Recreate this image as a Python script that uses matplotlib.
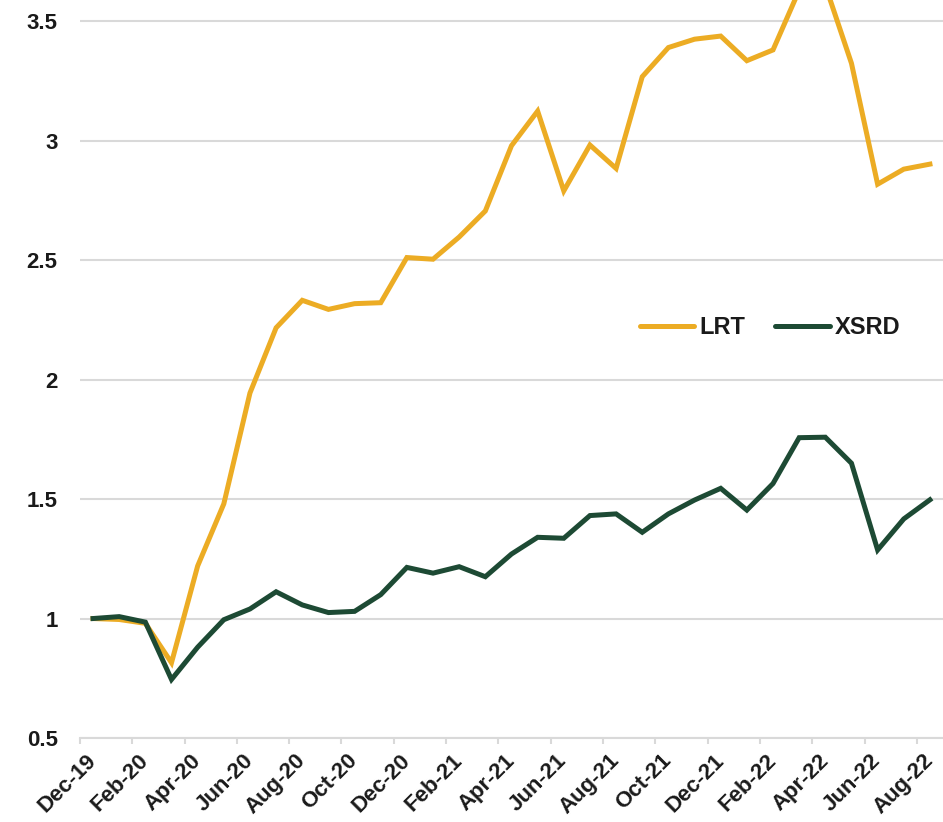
import numpy as np
import matplotlib
matplotlib.use('Agg')
import matplotlib.pyplot as plt

months = ['Dec-19', 'Jan-20', 'Feb-20', 'Mar-20', 'Apr-20', 'May-20', 'Jun-20', 'Jul-20',
          'Aug-20', 'Sep-20', 'Oct-20', 'Nov-20', 'Dec-20', 'Jan-21', 'Feb-21', 'Mar-21',
          'Apr-21', 'May-21', 'Jun-21', 'Jul-21', 'Aug-21', 'Sep-21', 'Oct-21', 'Nov-21',
          'Dec-21', 'Jan-22', 'Feb-22', 'Mar-22', 'Apr-22', 'May-22', 'Jun-22', 'Jul-22',
          'Aug-22']

lrt = [1.0, 0.996, 0.98, 0.815, 1.22, 1.48, 1.944, 2.217, 2.332, 2.294, 2.318, 2.322,
       2.511, 2.504, 2.597, 2.706, 2.979, 3.124, 2.79, 2.982, 2.884, 3.268, 3.39, 3.425,
       3.438, 3.335, 3.38, 3.63, 3.65, 3.324, 2.818, 2.881, 2.902]

xsrd = [1.0, 1.008, 0.985, 0.745, 0.88, 0.995, 1.04, 1.112, 1.057, 1.025, 1.03, 1.10,
        1.214, 1.19, 1.217, 1.175, 1.27, 1.34, 1.336, 1.431, 1.438, 1.361, 1.438, 1.496,
        1.545, 1.454, 1.565, 1.757, 1.759, 1.65, 1.287, 1.417, 1.497]

y_ticks = [0.5, 1, 1.5, 2, 2.5, 3, 3.5]
y_labels = ['0.5', '1', '1.5', '2', '2.5', '3', '3.5']

plt.rcParams['font.family'] = ['Liberation Sans', 'DejaVu Sans']

fig = plt.figure(figsize=(9.43, 8.22), dpi=100)
ax = fig.add_axes([0.0848, 0.1022, 0.9152, 0.8978])

x = np.arange(len(months))
ax.plot(x, lrt, color='#ECAC24', lw=3.6, label='LRT', solid_joinstyle='miter')
ax.plot(x, xsrd, color='#1D4A34', lw=3.6, label='XSRD', solid_joinstyle='miter')

ax.set_xlim(-0.5, len(months) - 0.5)
ax.set_ylim(0.5, 3.589)

# gridlines
ax.set_yticks(y_ticks)
ax.set_yticklabels(y_labels, fontsize=16, fontweight='bold', color='#1a1a1a')
ax.yaxis.grid(True, color='#D9D9D9', lw=1.5)
ax.set_axisbelow(True)
ax.tick_params(axis='y', length=0, pad=16)

# category axis: labels every 2 months, tick marks between categories
ax.set_xticks(x[::2])
ax.set_xticklabels(months[::2], fontsize=16, fontweight='bold', color='#1a1a1a',
                   rotation=45, ha='right', va='center', rotation_mode='anchor')
ax.set_xticks(np.arange(-0.5, len(months) - 0.5, 2), minor=True)
ax.tick_params(axis='x', which='major', length=0, pad=14)
ax.tick_params(axis='x', which='minor', length=4, width=1.5, color='#D9D9D9')

for s in ['top', 'right', 'left']:
    ax.spines[s].set_visible(False)
ax.spines['bottom'].set_color('#D9D9D9')
ax.spines['bottom'].set_linewidth(1.5)

leg = ax.legend(loc='center', bbox_to_anchor=(770 / 943, 1 - 328 / 822),
                bbox_transform=fig.transFigure, ncol=2, frameon=False,
                prop={'size': 17, 'weight': 'bold'}, handlelength=2.3,
                handletextpad=0.2, columnspacing=1.3)
for line in leg.get_lines():
    line.set_solid_capstyle('round')
for t in leg.get_texts():
    t.set_color('#1a1a1a')

fig.savefig('out.png', dpi=100)
